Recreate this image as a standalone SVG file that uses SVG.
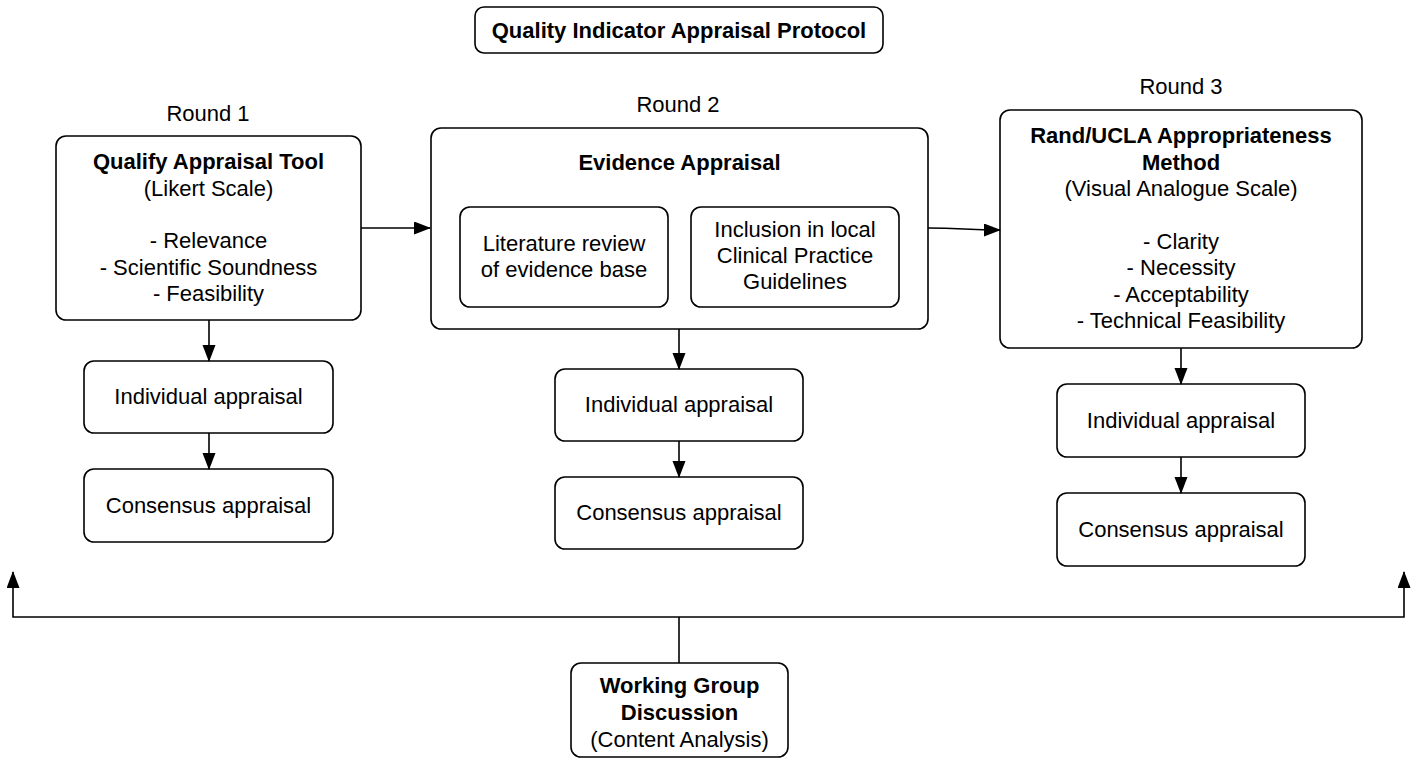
<svg xmlns="http://www.w3.org/2000/svg" width="1418" height="760" viewBox="0 0 1418 760">
<style>
.box{fill:#fff;stroke:#000;stroke-width:1.6}
text{font-family:"Liberation Sans",Arial,Helvetica,sans-serif;font-size:22px;fill:#000;text-anchor:middle}
.b{font-weight:bold}
.edge{fill:none;stroke:#000;stroke-width:1.6}
</style>
<defs>
<marker id="ah" markerUnits="userSpaceOnUse" markerWidth="18" markerHeight="14" refX="16" refY="6.5" orient="auto">
<path d="M0,0 L17,6.5 L0,13 z" fill="#000"/>
</marker>
</defs>
<rect width="1418" height="760" fill="#fff"/>

<g id="title">
<rect class="box" x="475" y="7" width="408" height="46" rx="9"/>
<text class="b" x="679" y="38">Quality Indicator Appraisal Protocol</text>
</g>

<g id="round-labels">
<text x="208" y="121">Round 1</text>
<text x="678" y="112">Round 2</text>
<text x="1181" y="94">Round 3</text>
</g>

<g id="qualify">
<rect class="box" x="56" y="136" width="305" height="184" rx="10"/>
<text class="b" x="208.5" y="169">Qualify Appraisal Tool</text>
<text x="208.5" y="195.5">(Likert Scale)</text>
<text x="208.5" y="248">- Relevance</text>
<text x="208.5" y="274.5">- Scientific Soundness</text>
<text x="208.5" y="301">- Feasibility</text>
</g>

<g id="evidence">
<rect class="box" x="431" y="128" width="497" height="201" rx="10"/>
<text class="b" x="679.5" y="170">Evidence Appraisal</text>
</g>
<g id="literature">
<rect class="box" x="460" y="207" width="208" height="100" rx="10"/>
<text x="564" y="251">Literature review</text>
<text x="564" y="277">of evidence base</text>
</g>
<g id="inclusion">
<rect class="box" x="691" y="207" width="208" height="100" rx="10"/>
<text x="795" y="237">Inclusion in local</text>
<text x="795" y="263">Clinical Practice</text>
<text x="795" y="289">Guidelines</text>
</g>

<g id="rand">
<rect class="box" x="1000" y="110" width="362" height="238" rx="10"/>
<text class="b" x="1181" y="143">Rand/UCLA Appropriateness</text>
<text class="b" x="1181" y="169.5">Method</text>
<text x="1181" y="196">(Visual Analogue Scale)</text>
<text x="1181" y="248.5">- Clarity</text>
<text x="1181" y="275">- Necessity</text>
<text x="1181" y="301.5">- Acceptability</text>
<text x="1181" y="328">- Technical Feasibility</text>
</g>

<g id="ind1">
<rect class="box" x="84" y="361" width="249" height="72" rx="10"/>
<text x="208.5" y="404">Individual appraisal</text>
</g>
<g id="con1">
<rect class="box" x="84" y="469" width="249" height="73" rx="10"/>
<text x="208.5" y="513">Consensus appraisal</text>
</g>

<g id="ind2">
<rect class="box" x="555" y="369" width="248" height="72" rx="10"/>
<text x="679" y="412">Individual appraisal</text>
</g>
<g id="con2">
<rect class="box" x="555" y="477" width="248" height="72" rx="10"/>
<text x="679" y="520">Consensus appraisal</text>
</g>

<g id="ind3">
<rect class="box" x="1057" y="384" width="248" height="73" rx="10"/>
<text x="1181" y="428">Individual appraisal</text>
</g>
<g id="con3">
<rect class="box" x="1057" y="493" width="248" height="73" rx="10"/>
<text x="1181" y="537">Consensus appraisal</text>
</g>

<g id="working-group">
<rect class="box" x="571" y="663" width="217" height="94" rx="10"/>
<text class="b" x="679.5" y="693">Working Group</text>
<text class="b" x="679.5" y="719.5">Discussion</text>
<text x="679.5" y="747">(Content Analysis)</text>
</g>

<g id="connectors">
<path class="edge" d="M361,228 L430,228" marker-end="url(#ah)"/>
<path class="edge" d="M928,228 C962,228 966,230 1000,230" marker-end="url(#ah)"/>
<path class="edge" d="M209,320 L209,361" marker-end="url(#ah)"/>
<path class="edge" d="M209,433 L209,469" marker-end="url(#ah)"/>
<path class="edge" d="M679,329 L679,369" marker-end="url(#ah)"/>
<path class="edge" d="M679,441 L679,477" marker-end="url(#ah)"/>
<path class="edge" d="M1181,348 L1181,384" marker-end="url(#ah)"/>
<path class="edge" d="M1181,457 L1181,493" marker-end="url(#ah)"/>
<path class="edge" d="M679,663 L679,617"/>
<path class="edge" d="M679,617 L13,617 L13,572" marker-end="url(#ah)"/>
<path class="edge" d="M679,617 L1404,617 L1404,572" marker-end="url(#ah)"/>
</g>
</svg>
